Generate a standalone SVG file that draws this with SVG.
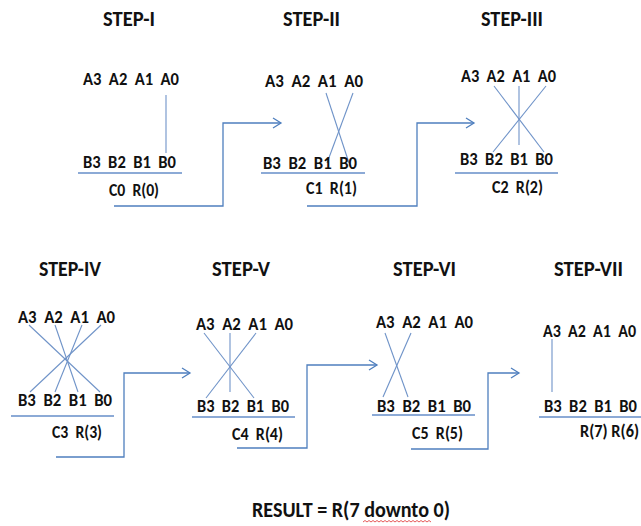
<svg xmlns="http://www.w3.org/2000/svg" width="641" height="526" viewBox="0 0 641 526">
<style>
text{font-family:Carlito,"Liberation Sans",Arial,sans-serif;font-weight:bold;fill:#111}
.t{font-size:23px}
.r{font-size:17px}
.res{font-size:22px}
.x{stroke:#6f93c8;stroke-width:1.1;fill:none}
.u{stroke:#8caad6;stroke-width:2.2;fill:none}
.c{stroke:#4f7fbe;stroke-width:1.3;fill:none}
</style>
<defs>
<marker id="ah" markerWidth="12" markerHeight="12" refX="10" refY="6" orient="auto" markerUnits="userSpaceOnUse">
<polyline points="2,1 10,6 2,11" fill="none" stroke="#4f7fbe" stroke-width="1.3"/>
</marker>
</defs>
<rect width="641" height="526" fill="#fff"/>

<g id="step1">
<text class="t" x="103" y="26" textLength="52" lengthAdjust="spacingAndGlyphs">STEP-I</text>
<text class="r" x="83" y="85" textLength="96" lengthAdjust="spacingAndGlyphs" xml:space="preserve">A3  A2  A1  A0</text>
<line class="x" x1="166" y1="95" x2="166" y2="153"/>
<text class="r" x="83" y="168" textLength="93" lengthAdjust="spacingAndGlyphs" xml:space="preserve">B3  B2  B1  B0</text>
<line class="u" x1="78" y1="173" x2="182" y2="173"/>
<text class="r" x="109" y="196" textLength="50" lengthAdjust="spacingAndGlyphs" xml:space="preserve">C0  R(0)</text>
</g>

<g id="step2">
<text class="t" x="283" y="26" textLength="57" lengthAdjust="spacingAndGlyphs">STEP-II</text>
<text class="r" x="265" y="87" textLength="98" lengthAdjust="spacingAndGlyphs" xml:space="preserve">A3  A2  A1  A0</text>
<line class="x" x1="326" y1="93" x2="349" y2="163"/>
<line class="x" x1="353" y1="93" x2="327" y2="163"/>
<text class="r" x="263" y="169" textLength="94" lengthAdjust="spacingAndGlyphs" xml:space="preserve">B3  B2  B1  B0</text>
<line class="u" x1="261" y1="173" x2="365" y2="173"/>
<text class="r" x="306" y="194" textLength="51" lengthAdjust="spacingAndGlyphs" xml:space="preserve">C1  R(1)</text>
</g>

<g id="step3">
<text class="t" x="481" y="26" textLength="62" lengthAdjust="spacingAndGlyphs">STEP-III</text>
<text class="r" x="461" y="82" textLength="95" lengthAdjust="spacingAndGlyphs" xml:space="preserve">A3  A2  A1  A0</text>
<line class="x" x1="494" y1="86" x2="544" y2="152"/>
<line class="x" x1="546" y1="86" x2="493" y2="152"/>
<line class="x" x1="519" y1="86" x2="519" y2="145"/>
<text class="r" x="460" y="165" textLength="93" lengthAdjust="spacingAndGlyphs" xml:space="preserve">B3  B2  B1  B0</text>
<line class="u" x1="455" y1="173" x2="558" y2="173"/>
<text class="r" x="492" y="193" textLength="51" lengthAdjust="spacingAndGlyphs" xml:space="preserve">C2  R(2)</text>
</g>

<g id="step4">
<text class="t" x="39" y="276" textLength="62" lengthAdjust="spacingAndGlyphs">STEP-IV</text>
<text class="r" x="18" y="323" textLength="97" lengthAdjust="spacingAndGlyphs" xml:space="preserve">A3  A2  A1  A0</text>
<line class="x" x1="29" y1="325" x2="100" y2="392"/>
<line class="x" x1="101" y1="325" x2="30" y2="392"/>
<line class="x" x1="55" y1="325" x2="78" y2="392"/>
<line class="x" x1="82" y1="325" x2="55" y2="392"/>
<text class="r" x="18" y="406" textLength="94" lengthAdjust="spacingAndGlyphs" xml:space="preserve">B3  B2  B1  B0</text>
<line class="u" x1="11" y1="416" x2="114" y2="416"/>
<text class="r" x="52" y="438" textLength="50" lengthAdjust="spacingAndGlyphs" xml:space="preserve">C3  R(3)</text>
</g>

<g id="step5">
<text class="t" x="212" y="276" textLength="58" lengthAdjust="spacingAndGlyphs">STEP-V</text>
<text class="r" x="196" y="330" textLength="97" lengthAdjust="spacingAndGlyphs" xml:space="preserve">A3  A2  A1  A0</text>
<line class="x" x1="204" y1="333" x2="254" y2="398"/>
<line class="x" x1="256" y1="333" x2="206" y2="398"/>
<line class="x" x1="230" y1="333" x2="230" y2="392"/>
<text class="r" x="197" y="412" textLength="92" lengthAdjust="spacingAndGlyphs" xml:space="preserve">B3  B2  B1  B0</text>
<line class="u" x1="192" y1="417" x2="295" y2="417"/>
<text class="r" x="232" y="440" textLength="51" lengthAdjust="spacingAndGlyphs" xml:space="preserve">C4  R(4)</text>
</g>

<g id="step6">
<text class="t" x="393" y="276" textLength="63" lengthAdjust="spacingAndGlyphs">STEP-VI</text>
<text class="r" x="376" y="328" textLength="97" lengthAdjust="spacingAndGlyphs" xml:space="preserve">A3  A2  A1  A0</text>
<line class="x" x1="385" y1="333" x2="408" y2="397"/>
<line class="x" x1="411" y1="333" x2="383" y2="397"/>
<text class="r" x="377" y="412" textLength="94" lengthAdjust="spacingAndGlyphs" xml:space="preserve">B3  B2  B1  B0</text>
<line class="u" x1="372" y1="415" x2="475" y2="415"/>
<text class="r" x="412" y="439" textLength="51" lengthAdjust="spacingAndGlyphs" xml:space="preserve">C5  R(5)</text>
</g>

<g id="step7">
<text class="t" x="554" y="276" textLength="69" lengthAdjust="spacingAndGlyphs">STEP-VII</text>
<text class="r" x="543" y="337" textLength="93" lengthAdjust="spacingAndGlyphs" xml:space="preserve">A3  A2  A1  A0</text>
<line class="x" x1="552" y1="339" x2="552" y2="392"/>
<text class="r" x="544" y="412" textLength="93" lengthAdjust="spacingAndGlyphs" xml:space="preserve">B3  B2  B1  B0</text>
<line class="u" x1="539" y1="417" x2="641" y2="417"/>
<text class="r" x="580" y="437" textLength="59" lengthAdjust="spacingAndGlyphs">R(7) R(6)</text>
</g>

<g id="connectors">
<polyline class="c" points="114,206 223,206 223,123 281,123" marker-end="url(#ah)"/>
<polyline class="c" points="307,206 417,206 417,123 474,123" marker-end="url(#ah)"/>
<polyline class="c" points="56,457 124,457 124,373 190,373" marker-end="url(#ah)"/>
<polyline class="c" points="237,448 307,448 307,365 377,365" marker-end="url(#ah)"/>
<polyline class="c" points="411,449 488,449 488,373 519,373" marker-end="url(#ah)"/>
</g>

<g id="result">
<text class="res" x="252" y="517" textLength="198" lengthAdjust="spacingAndGlyphs">RESULT = R(7 downto 0)</text>
<path d="M363,522 l2,-1.5 l2,1.5 l2,-1.5 l2,1.5 l2,-1.5 l2,1.5 l2,-1.5 l2,1.5 l2,-1.5 l2,1.5 l2,-1.5 l2,1.5 l2,-1.5 l2,1.5 l2,-1.5 l2,1.5 l2,-1.5 l2,1.5 l2,-1.5 l2,1.5 l2,-1.5 l2,1.5 l2,-1.5 l2,1.5 l2,-1.5 l2,1.5 l2,-1.5 l2,1.5 l2,-1.5 l2,1.5 l2,-1.5 l2,1.5 l2,-1.5 l2,1.5" fill="none" stroke="#e03030" stroke-width="0.8"/>
</g>
</svg>
